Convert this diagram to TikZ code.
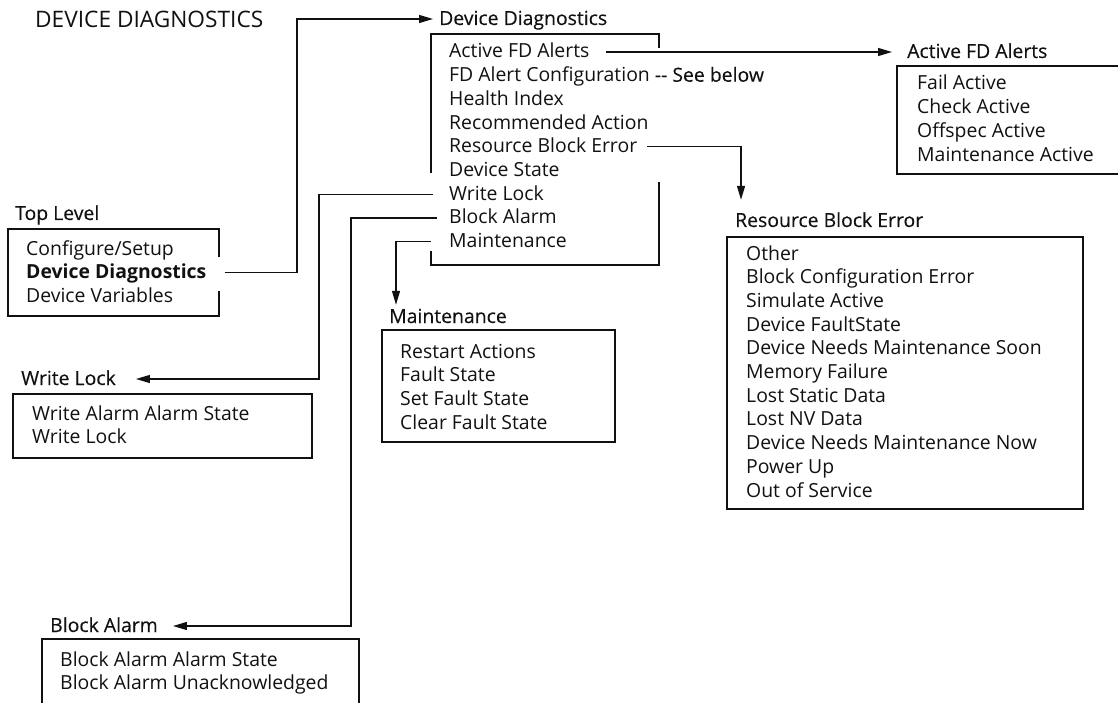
\documentclass[tikz,border=0pt]{standalone}
\usepackage{fontspec}
\setmainfont{Open Sans}
\newfontfamily\headfont{Open Sans}[FakeBold=0.3]
\usepackage{tikz}
\usetikzlibrary{positioning,arrows.meta}
\definecolor{ink}{HTML}{111111}
\tikzset{
  entry/.style={anchor=base west, inner sep=0pt, text height=12pt, text depth=0pt, text=ink},
  heading/.style={entry, font=\fontsize{19.4}{23.7}\selectfont\headfont},
  frame/.style={draw=ink, line width=1.2pt},
  conn/.style={draw=ink, line width=1.3pt, -{Triangle[length=14pt,width=8pt]}}
}

\begin{document}
\begin{tikzpicture}[x=1pt, y=-1pt, font=\fontsize{19.4}{23.7}\selectfont]
  \useasboundingbox (0,0) rectangle (1118,703);

  \node[entry, font=\fontsize{22.7}{26}\selectfont] (title) at (35,28) {DEVICE DIAGNOSTICS};

  \node[heading] (tl) at (15,220) {Top Level};
  \node[entry] (tl-cfg) at (26,255) {Configure/Setup};
  \node[entry] (tl-dd) at (26,278.7) {\textbf{Device Diagnostics}};
  \node[entry] (tl-var) at (26,302.4) {Device Variables};
  \draw[frame] (219,257) -- (219,229) -- (8,229) -- (8,316) -- (219,316) -- (219,291);

  \node[heading] (dd) at (439,25) {Device Diagnostics};
  \node[entry] (dd-afa) at (449,58) {Active FD Alerts};
  \node[entry] (dd-cfg) at (449,81.7) {FD Alert Configuration {\headfont -{}- See below}};
  \node[entry] (dd-hi) at (449,105.4) {Health Index};
  \node[entry] (dd-ra) at (449,129.1) {Recommended Action};
  \node[entry] (dd-rbe) at (449,152.8) {Resource Block Error};
  \node[entry] (dd-ds) at (449,176.5) {Device State};
  \node[entry] (dd-wl) at (449,200.2) {Write Lock};
  \node[entry] (dd-ba) at (449,223.9) {Block Alarm};
  \node[entry] (dd-mt) at (449,247.6) {Maintenance};
  \draw[frame] (431,173) -- (431,34) -- (659,34) -- (659,48);
  \draw[frame] (659,182) -- (659,265) -- (431,265) -- (431,251);

  \node[heading] (afa) at (907,58) {Active FD Alerts};
  \node[entry] (afa-fail) at (917,90) {Fail Active};
  \node[entry] (afa-chk) at (917,113.7) {Check Active};
  \node[entry] (afa-off) at (917,137.4) {Offspec Active};
  \node[entry] (afa-mnt) at (917,161.1) {Maintenance Active};
  \draw[frame] (1118,66) -- (897,66) -- (897,174) -- (1118,174);

  \node[heading] (rbe) at (735,227) {Resource Block Error};
  \node[entry] (rbe-oth) at (746,260) {Other};
  \node[entry] (rbe-bce) at (746,283.7) {Block Configuration Error};
  \node[entry] (rbe-sim) at (746,307.4) {Simulate Active};
  \node[entry] (rbe-dfs) at (746,331.1) {Device FaultState};
  \node[entry] (rbe-soon) at (746,354.8) {Device Needs Maintenance Soon};
  \node[entry] (rbe-mem) at (746,378.5) {Memory Failure};
  \node[entry] (rbe-lsd) at (746,402.2) {Lost Static Data};
  \node[entry] (rbe-lnv) at (746,425.9) {Lost NV Data};
  \node[entry] (rbe-now) at (746,449.6) {Device Needs Maintenance Now};
  \node[entry] (rbe-pwr) at (746,473.3) {Power Up};
  \node[entry] (rbe-oos) at (746,497) {Out of Service};
  \draw[frame] (727,237) rectangle (1083,509);

  \node[heading] (mt) at (389,323) {Maintenance};
  \node[entry] (mt-rst) at (400,358) {Restart Actions};
  \node[entry] (mt-fs) at (400,381.7) {Fault State};
  \node[entry] (mt-set) at (400,405.4) {Set Fault State};
  \node[entry] (mt-clr) at (400,429.1) {Clear Fault State};
  \draw[frame] (382,330) rectangle (615,442);

  \node[heading] (wl) at (21,385) {Write Lock};
  \node[entry] (wl-st) at (32,420) {Write Alarm Alarm State};
  \node[entry] (wl-lk) at (32,443.7) {Write Lock};
  \draw[frame] (13,394) rectangle (312,458);

  \node[heading] (ba) at (50,632) {Block Alarm};
  \node[entry] (ba-st) at (60,666) {Block Alarm Alarm State};
  \node[entry] (ba-ack) at (60,689.7) {Block Alarm Unacknowledged};
  \draw[frame] (359,703) -- (359,639) -- (42,639) -- (42,703);

  \draw[conn] ([xshift=18pt]tl-dd.east) -| (297,100) |- ([xshift=-6pt]dd.west);
  \draw[conn] ([xshift=16pt]dd-afa.east) -- ([xshift=-15pt]afa.west);
  \draw[conn] ([xshift=10pt]dd-rbe.east) -| ([xshift=6pt,yshift=15pt]rbe.north west);
  \draw[conn] ([xshift=-16pt]dd-wl.west) -| (319,300) |- ([xshift=20pt]wl.east);
  \draw[conn] ([xshift=-12pt]dd-ba.west) -| (351,400) |- ([xshift=15pt]ba.east);
  \draw[conn] ([xshift=-18pt]dd-mt.west) -| ([xshift=7pt,yshift=6pt]mt.north west);
\end{tikzpicture}
\end{document}
